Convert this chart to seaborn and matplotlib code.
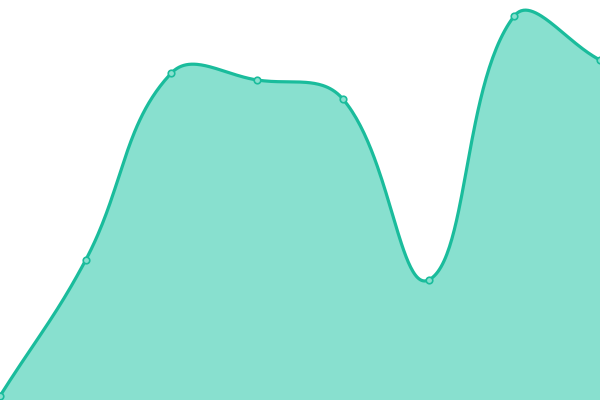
import numpy as np
import pandas as pd
import matplotlib
matplotlib.use("Agg")
import matplotlib.pyplot as plt
import seaborn as sns

# values (0 at bottom edge, 400 at top edge)
positions = [0, 1, 2, 3, 4, 5, 6, 7]
values = [4, 140, 327, 320, 301, 120, 384, 340]

LINE = "#1abc9c"
FILL = "#88e0cf"
W, H = 600, 400
TENSION = 0.4


def spline_curve(xs, ys, tension):
    # Chart.js style bezier control points, computed in pixel space
    px = np.array(xs, dtype=float) * W / (len(xs) - 1)
    py = np.array(ys, dtype=float)
    n = len(px)
    cps = []
    for i in range(n):
        p0 = (px[max(i - 1, 0)], py[max(i - 1, 0)])
        p1 = (px[i], py[i])
        p2 = (px[min(i + 1, n - 1)], py[min(i + 1, n - 1)])
        d01 = np.hypot(p1[0] - p0[0], p1[1] - p0[1])
        d12 = np.hypot(p2[0] - p1[0], p2[1] - p1[1])
        s01 = d01 / (d01 + d12) if d01 + d12 else 0
        s12 = d12 / (d01 + d12) if d01 + d12 else 0
        fa, fb = tension * s01, tension * s12
        prev_cp = (p1[0] - fa * (p2[0] - p0[0]), p1[1] - fa * (p2[1] - p0[1]))
        next_cp = (p1[0] + fb * (p2[0] - p0[0]), p1[1] + fb * (p2[1] - p0[1]))
        cps.append((prev_cp, next_cp))
    out_x, out_y = [], []
    t = np.linspace(0, 1, 60)
    for i in range(n - 1):
        a = np.array([px[i], py[i]])
        b = np.array(cps[i][1])
        c = np.array(cps[i + 1][0])
        d = np.array([px[i + 1], py[i + 1]])
        seg = ((1 - t) ** 3)[:, None] * a + (3 * (1 - t) ** 2 * t)[:, None] * b \
            + (3 * (1 - t) * t ** 2)[:, None] * c + (t ** 3)[:, None] * d
        out_x.extend(seg[:, 0])
        out_y.extend(seg[:, 1])
    out_x = np.array(out_x) * (len(xs) - 1) / W
    return out_x, np.array(out_y)


cx, cy = spline_curve(positions, values, TENSION)
curve = pd.DataFrame({"x": cx, "y": cy, "order": np.arange(len(cx))})
pts = pd.DataFrame({"x": positions, "y": values})

sns.set_style("white")
fig = plt.figure(figsize=(6, 4), dpi=100)
ax = fig.add_axes([0, 0, 1, 1])

ax.fill_between(cx, 0, cy, color=FILL, linewidth=0)
sns.lineplot(data=curve, x="x", y="y", sort=False, color=LINE, linewidth=2.3, ax=ax)
sns.scatterplot(data=pts, x="x", y="y", color=FILL, edgecolor=LINE, linewidth=1.2,
                s=22, zorder=5, clip_on=False, ax=ax)

ax.set_xlim(0, 7)
ax.set_ylim(0, 400)
ax.axis("off")

fig.savefig("out.png", dpi=100)
